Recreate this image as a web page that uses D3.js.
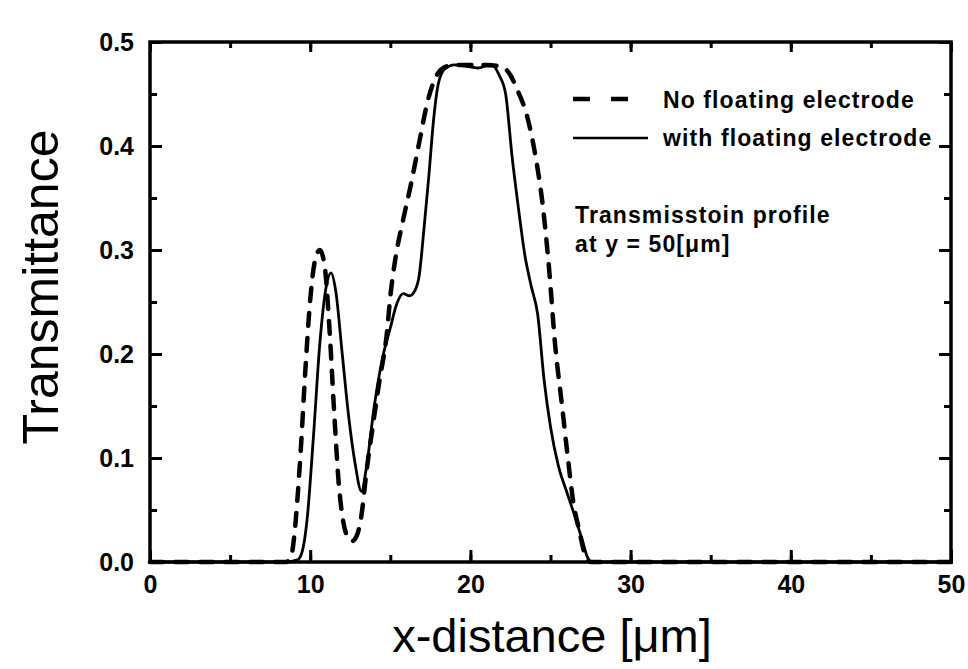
<!DOCTYPE html>
<html><head><meta charset="utf-8">
<script src="https://cdn.jsdelivr.net/npm/d3@7"></script>
<style>html,body{margin:0;padding:0;background:#fff}svg{display:block}</style>
</head><body>
<script>
// ---- data ----
const noFloatX = [0, 5, 8.5, 8.8, 9.0, 9.2, 9.4, 9.7, 10.0, 10.3, 10.6, 10.9, 11.2, 11.5, 11.8, 12.0, 12.3, 12.6, 12.9, 13.2, 13.5, 13.9, 14.3, 14.8, 15.0, 15.3, 15.8, 16.3, 16.8, 17.3, 17.8, 18.3, 19.0, 20.0, 21.0, 22.0, 22.5, 22.9, 23.6, 24.1, 24.5, 24.9, 25.3, 25.7, 26.1, 26.4, 26.8, 27.2, 27.5, 30, 50];
const noFloatY = [0, 0, 0, 0.005, 0.024, 0.06, 0.105, 0.185, 0.252, 0.29, 0.3, 0.285, 0.225, 0.143, 0.072, 0.045, 0.025, 0.02, 0.025, 0.045, 0.085, 0.13, 0.172, 0.222, 0.255, 0.29, 0.329, 0.364, 0.403, 0.441, 0.465, 0.475, 0.478, 0.478, 0.478, 0.476, 0.468, 0.455, 0.425, 0.387, 0.345, 0.284, 0.207, 0.153, 0.098, 0.06, 0.03, 0.005, 0, 0, 0];
const withFloatX = [0, 5, 8.5, 9.2, 9.5, 9.8, 10.2, 10.6, 11.0, 11.3, 11.6, 12.0, 12.4, 12.8, 13.2, 13.5, 14.0, 14.5, 15.0, 15.4, 15.8, 16.2, 16.5, 16.8, 17.1, 17.4, 17.7, 18.0, 18.4, 19.0, 20.0, 20.5, 21.0, 21.4, 21.8, 22.2, 22.6, 23.0, 23.4, 23.8, 24.2, 24.6, 25.0, 25.5, 26.0, 26.5, 27.0, 27.3, 27.6, 30, 50];
const withFloatY = [0, 0, 0, 0.002, 0.01, 0.04, 0.12, 0.21, 0.265, 0.278, 0.26, 0.2, 0.14, 0.095, 0.068, 0.09, 0.15, 0.195, 0.225, 0.248, 0.258, 0.256, 0.26, 0.275, 0.32, 0.37, 0.425, 0.46, 0.474, 0.478, 0.476, 0.475, 0.477, 0.477, 0.468, 0.45, 0.39, 0.34, 0.295, 0.265, 0.238, 0.175, 0.13, 0.092, 0.068, 0.045, 0.02, 0.005, 0, 0, 0];
const xTicks = [0, 10, 20, 30, 40, 50];
const yTicks = [0.0, 0.1, 0.2, 0.3, 0.4, 0.5];
const legendLabels = ["No floating electrode", "with floating electrode"];
const noteLines = ["Transmisstoin profile", "at y = 50[\u03bcm]"];
const xTitle = "x-distance [\u03bcm]";
const yTitle = "Transmittance";

// ---- layout ----
const W = 968, H = 669;
const L = 150, R = 951, T = 42, B = 562;
const font = "'Liberation Sans', Arial, sans-serif";

const svg = d3.select("body").append("svg").attr("width", W).attr("height", H);
const x = d3.scaleLinear().domain([0, 50]).range([L, R]);
const y = d3.scaleLinear().domain([0, 0.5]).range([B, T]);

const line = d3.line().x(d => x(d[0])).y(d => y(d[1])).curve(d3.curveMonotoneX);
const dNo = noFloatX.map((v, i) => [v, noFloatY[i]]);
const dWith = withFloatX.map((v, i) => [v, withFloatY[i]]);

svg.append("path").attr("d", line(dWith)).attr("fill", "none")
  .attr("stroke", "#000").attr("stroke-width", 2.8).attr("stroke-linejoin", "round");
svg.append("path").attr("d", line(dNo)).attr("fill", "none")
  .attr("stroke", "#000").attr("stroke-width", 4.5).attr("stroke-dasharray", "13,12")
  .attr("stroke-linecap", "round");

// axes with inward ticks
const minorX = d3.range(0, 51, 5);
const minorY = d3.range(0, 0.501, 0.05);
svg.append("g").attr("transform", `translate(0,${B})`)
  .call(d3.axisTop(x).tickValues(minorX).tickSize(7).tickFormat(""));
svg.append("g").attr("transform", `translate(0,${B})`)
  .call(d3.axisTop(x).tickValues(xTicks).tickSize(12).tickFormat(""));
svg.append("g").attr("transform", `translate(0,${T})`)
  .call(d3.axisBottom(x).tickValues(minorX).tickSize(6).tickFormat(""));
svg.append("g").attr("transform", `translate(0,${T})`)
  .call(d3.axisBottom(x).tickValues(xTicks).tickSize(10).tickFormat(""));
svg.append("g").attr("transform", `translate(${L},0)`)
  .call(d3.axisRight(y).tickValues(minorY).tickSize(7).tickFormat(""));
svg.append("g").attr("transform", `translate(${L},0)`)
  .call(d3.axisRight(y).tickValues(yTicks).tickSize(12).tickFormat(""));
svg.append("g").attr("transform", `translate(${R},0)`)
  .call(d3.axisLeft(y).tickValues(minorY).tickSize(7).tickFormat(""));
svg.append("g").attr("transform", `translate(${R},0)`)
  .call(d3.axisLeft(y).tickValues(yTicks).tickSize(12).tickFormat(""));
svg.selectAll(".domain").remove();
svg.selectAll(".tick line").attr("stroke", "#000").attr("stroke-width", 3);

// frame
svg.append("rect").attr("x", L).attr("y", T).attr("width", R - L).attr("height", B - T)
  .attr("fill", "none").attr("stroke", "#000").attr("stroke-width", 3.5);

// tick labels
const gxl = svg.append("g").attr("transform", `translate(0,${B + 10})`)
  .call(d3.axisBottom(x).tickValues(xTicks).tickSize(0).tickFormat(d3.format("d")));
gxl.select(".domain").remove();
gxl.selectAll("text").attr("font-family", font).attr("font-size", 25).attr("font-weight", "bold").attr("fill", "#000");
const gyl = svg.append("g").attr("transform", `translate(${L - 13},0)`)
  .call(d3.axisLeft(y).tickValues(yTicks).tickSize(0).tickFormat(d3.format(".1f")));
gyl.select(".domain").remove();
gyl.selectAll("text").attr("font-family", font).attr("font-size", 25).attr("font-weight", "bold").attr("fill", "#000");

// axis titles
svg.append("text").attr("x", 552).attr("y", 652).attr("text-anchor", "middle")
  .attr("font-family", font).attr("font-size", 47).attr("fill", "#000").text(xTitle);
svg.append("text").attr("transform", "translate(58,287) rotate(-90)").attr("text-anchor", "middle")
  .attr("font-family", font).attr("font-size", 50).attr("fill", "#000").text(yTitle);

// legend
const lg = svg.append("g");
lg.append("line").attr("x1", 573).attr("x2", 630).attr("y1", 99).attr("y2", 99)
  .attr("stroke", "#000").attr("stroke-width", 4.5).attr("stroke-dasharray", "17,21");
lg.append("line").attr("x1", 573).attr("x2", 648).attr("y1", 138).attr("y2", 138)
  .attr("stroke", "#000").attr("stroke-width", 2.5);
lg.selectAll("text.lab").data(legendLabels).enter().append("text")
  .attr("x", 663).attr("y", (d, i) => 108 + i * 38)
  .attr("font-family", font).attr("font-size", 23).attr("font-weight", "bold")
  .attr("letter-spacing", 1.1).attr("fill", "#000")
  .text(d => d);
svg.selectAll("text.note").data(noteLines).enter().append("text")
  .attr("x", 575).attr("y", (d, i) => 223 + i * 29)
  .attr("font-family", font).attr("font-size", 23).attr("font-weight", "bold")
  .attr("letter-spacing", 1.1).attr("fill", "#000")
  .text(d => d);
</script>
</body></html>
